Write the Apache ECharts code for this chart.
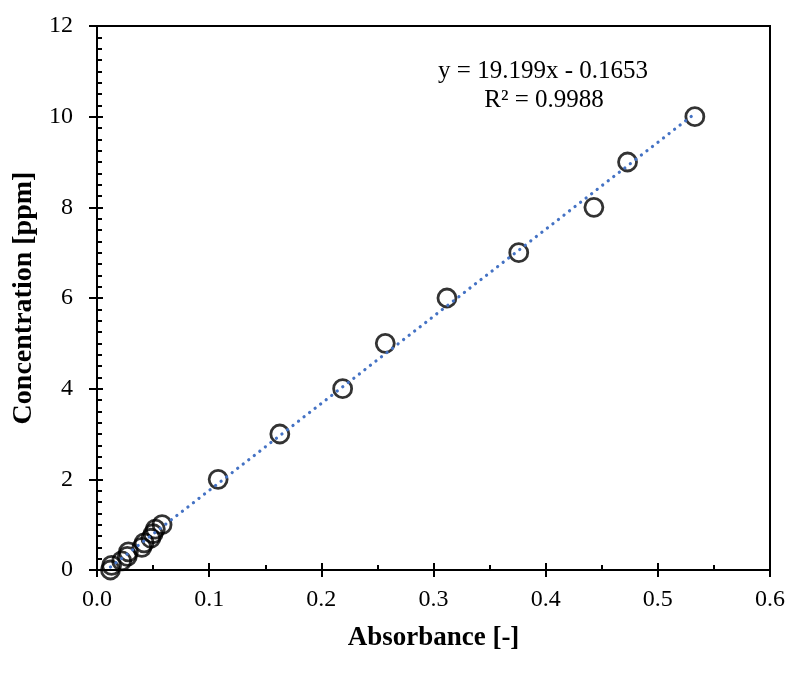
<!DOCTYPE html>
<html>
<head>
<meta charset="utf-8">
<script src="https://cdn.jsdelivr.net/npm/echarts@6/dist/echarts.min.js"></script>
<style>
  html, body { margin: 0; padding: 0; background: #fff; }
  #chart { width: 788px; height: 673px; }
</style>
</head>
<body>
<div id="chart"></div>
<script>
// Calibration standards: absorbance readings and their concentrations
const absorbance = [0.012, 0.013, 0.022, 0.027, 0.028, 0.040, 0.042, 0.048, 0.050, 0.052, 0.058,
                    0.108, 0.163, 0.219, 0.257, 0.312, 0.376, 0.443, 0.473, 0.533];
const concentration = [0.0, 0.1, 0.2, 0.3, 0.4, 0.5, 0.6, 0.7, 0.8, 0.9, 1.0,
                       2, 3, 4, 5, 6, 7, 8, 9, 10];

// Linear fit reported on the chart
const slope = 19.199;
const intercept = -0.1653;
const rSquared = 0.9988;

const xTicks = [0, 0.1, 0.2, 0.3, 0.4, 0.5, 0.6];
const yTicks = [0, 2, 4, 6, 8, 10, 12];

const points = absorbance.map((a, i) => [a, concentration[i]]);
const xMin = Math.min(...absorbance);
const xMax = Math.max(...absorbance);
const fitLine = [[xMin, slope * xMin + intercept], [xMax, slope * xMax + intercept]];

const font = '"Liberation Serif", "Times New Roman", serif';
const gridBox = { left: 97, top: 26, right: 18, bottom: 103 };

const xRange = { min: xTicks[0], max: xTicks[xTicks.length - 1], interval: xTicks[1] - xTicks[0] };
const yRange = { min: yTicks[0], max: yTicks[yTicks.length - 1], interval: yTicks[1] - yTicks[0] };

const chart = echarts.init(document.getElementById('chart'), null, { renderer: 'canvas' });

chart.setOption({
  backgroundColor: '#fff',
  animation: false,
  grid: [
    Object.assign({ show: true, borderColor: '#000', borderWidth: 2, backgroundColor: 'transparent' }, gridBox),
    Object.assign({ show: false }, gridBox)
  ],
  xAxis: [
    Object.assign({
      type: 'value', gridIndex: 0, position: 'bottom',
      name: 'Absorbance [-]', nameLocation: 'middle', nameGap: 55,
      nameTextStyle: { fontFamily: font, fontSize: 27, fontWeight: 'bold', color: '#000' },
      axisLine: { show: true, onZero: false, lineStyle: { color: '#000', width: 2 } },
      axisTick: { show: true, inside: true, length: 7, lineStyle: { color: '#000', width: 2 } },
      minorTick: { show: true, splitNumber: 2, length: 5, lineStyle: { color: '#000', width: 2 } },
      axisLabel: { fontFamily: font, fontSize: 24, color: '#000', margin: 18,
                   formatter: v => v.toFixed(1) },
      splitLine: { show: false }
    }, xRange),
    Object.assign({
      type: 'value', gridIndex: 1, position: 'bottom',
      axisLine: { show: false },
      axisTick: { show: true, inside: false, length: 7, lineStyle: { color: '#000', width: 2 } },
      axisLabel: { show: false },
      splitLine: { show: false }
    }, xRange)
  ],
  yAxis: [
    Object.assign({
      type: 'value', gridIndex: 0, position: 'left',
      name: 'Concentration [ppm]', nameLocation: 'middle', nameGap: 55,
      nameTextStyle: { fontFamily: font, fontSize: 28, fontWeight: 'bold', color: '#000' },
      axisLine: { show: true, onZero: false, lineStyle: { color: '#000', width: 2 } },
      axisTick: { show: true, inside: true, length: 6, lineStyle: { color: '#000', width: 2 } },
      minorTick: { show: true, splitNumber: 8, length: 5, lineStyle: { color: '#000', width: 2 } },
      axisLabel: { fontFamily: font, fontSize: 24, color: '#000', margin: 24 },
      splitLine: { show: false }
    }, yRange),
    Object.assign({
      type: 'value', gridIndex: 1, position: 'left',
      axisLine: { show: false },
      axisTick: { show: true, inside: false, length: 8, lineStyle: { color: '#000', width: 2 } },
      axisLabel: { show: false },
      splitLine: { show: false }
    }, yRange)
  ],
  series: [
    {
      type: 'scatter', xAxisIndex: 0, yAxisIndex: 0,
      data: points,
      symbol: 'circle', symbolSize: 18,
      itemStyle: { color: 'transparent', borderColor: '#000', borderWidth: 2.8 },
      z: 2
    },
    {
      type: 'line', xAxisIndex: 0, yAxisIndex: 0,
      data: fitLine,
      symbol: 'none',
      lineStyle: { color: '#4472C4', width: 3.2, type: [0.1, 6.9], cap: 'round' },
      z: 3
    }
  ],
  graphic: [
    {
      type: 'text', x: 543, y: 71, z: 10,
      style: {
        text: 'y = ' + slope.toFixed(3) + 'x - ' + Math.abs(intercept).toFixed(4),
        fontFamily: font, fontSize: 25, fill: '#000', align: 'center', verticalAlign: 'middle'
      }
    },
    {
      type: 'text', x: 544, y: 100, z: 10,
      style: {
        text: 'R² = ' + rSquared.toFixed(4),
        fontFamily: font, fontSize: 25, fill: '#000', align: 'center', verticalAlign: 'middle'
      }
    }
  ]
});
</script>
</body>
</html>
